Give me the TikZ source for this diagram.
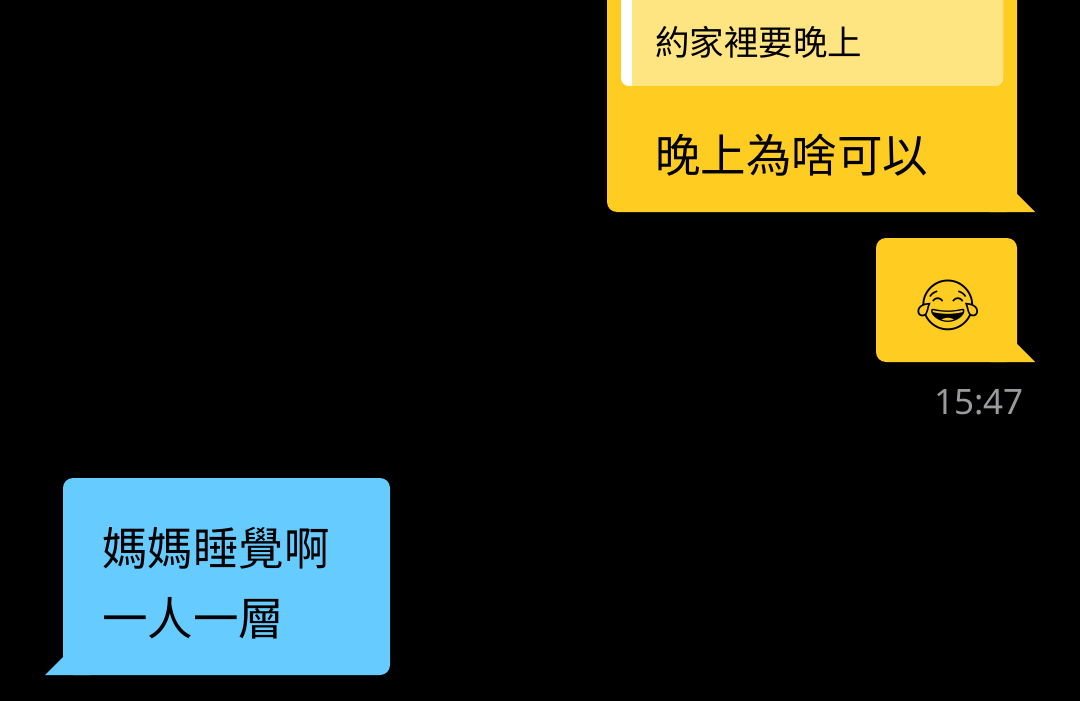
\documentclass[tikz,border=0pt]{standalone}
\usepackage{fontspec}
\setmainfont{Noto Sans}
\newfontfamily\cjk{Noto Sans CJK TC}
\newfontfamily\emo{Noto Emoji}
\definecolor{yel}{HTML}{FFCC22}
\definecolor{lyel}{HTML}{FFE482}
\definecolor{blu}{HTML}{66CCFF}
\definecolor{tgray}{HTML}{9A9A9E}
\begin{document}
\begin{tikzpicture}[x=1pt,y=-1pt,
  txt/.style={inner sep=0pt,anchor=west,font=\cjk\fontsize{45.5}{48}\selectfont},
  small/.style={inner sep=0pt,anchor=west,font=\cjk\fontsize{34.5}{38}\selectfont}]
\fill[black] (0,0) rectangle (1080,701);
\useasboundingbox (0,0) rectangle (1080,701);
% top bubble
\fill[yel,rounded corners=10pt] (607,-20) rectangle (1017,212);
\fill[yel] (990,212) -- (1035,212) -- (1017,194) -- cycle;
\fill[white,rounded corners=8pt] (621,-20) rectangle (1003,86);
\fill[lyel,rounded corners=8pt] (632,-20) rectangle (1003,86);
\fill[lyel] (632,-20) rectangle (645,86);
\node[small] (q) at (655,42) {約家裡要晚上};
\node[txt] (m1) at (655,155) {晚上為啥可以};
% emoji bubble
\fill[yel,rounded corners=10pt] (876,238) rectangle (1017,362);
\fill[yel] (990,362) -- (1035,362) -- (1017,344) -- cycle;
\node[inner sep=0pt,font=\emo\fontsize{50}{50}\selectfont] (e) at (948,305) {😂};
\node[inner sep=0pt,anchor=east,text=tgray,font=\fontsize{35}{40}\selectfont] (t) at (1024,402) {15:47};
% blue bubble
\fill[blu,rounded corners=10pt] (63,478) rectangle (390,675);
\fill[blu] (90,675) -- (45,675) -- (63,657) -- cycle;
\node[txt] (b1) at (102,548) {媽媽睡覺啊};
\node[txt] (b2) at (102,618) {一人一層};
\end{tikzpicture}
\end{document}
